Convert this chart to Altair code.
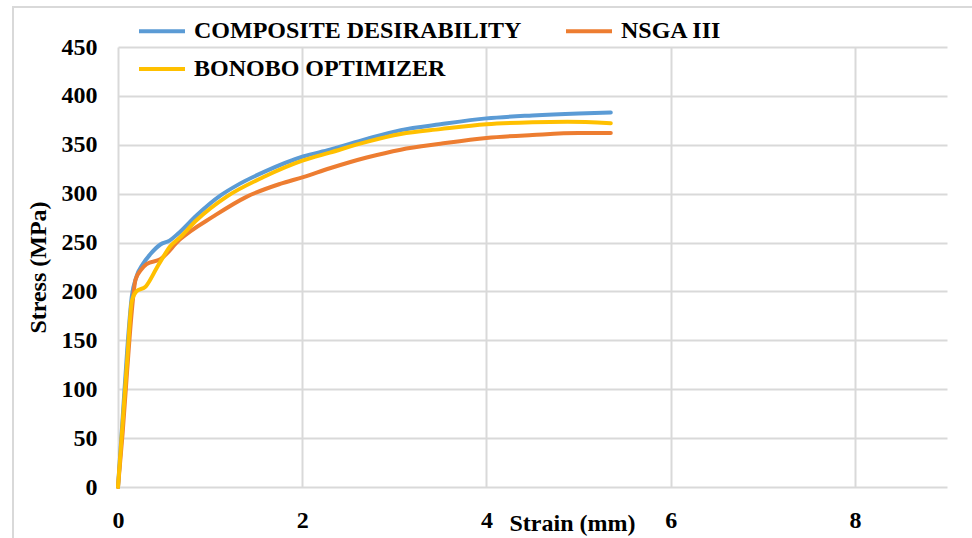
import altair as alt
import pandas as pd

# Composite desirability
cd_strain = [0, 0.05, 0.10, 0.15, 0.20, 0.27, 0.35, 0.46, 0.56, 0.65, 0.855, 1.11, 1.30, 1.58, 2.01, 2.30, 2.70, 3.07, 3.50, 4.00, 4.50, 5.00, 5.35]
cd_stress = [0, 70, 140, 195, 215, 228, 238, 248, 252, 259, 278, 298, 309, 322, 338, 345, 356, 365, 371, 377, 380, 382, 383]

# NSGA III
ns_strain = [0, 0.05, 0.10, 0.15, 0.19, 0.25, 0.31, 0.46, 0.67, 1.04, 1.40, 1.76, 2.01, 2.30, 2.70, 3.07, 3.50, 4.00, 4.50, 5.00, 5.35]
ns_stress = [0, 55, 120, 180, 212, 222, 228, 233, 253, 277, 297, 310, 317, 326, 337, 345, 351, 357, 360, 362, 362]

# Bonobo optimizer
bo_strain = [0, 0.05, 0.10, 0.15, 0.20, 0.30, 0.42, 0.47, 0.565, 0.67, 0.855, 1.18, 1.58, 2.01, 2.30, 2.70, 3.07, 3.50, 4.00, 4.50, 4.88, 5.35]
bo_stress = [0, 65, 130, 190, 200, 205, 224, 232, 246, 255, 273, 297, 317, 334, 342, 353, 361, 366, 371, 373, 373.5, 372]

series_names = ["COMPOSITE DESIRABILITY", "NSGA III", "BONOBO OPTIMIZER"]
series_colors = ["#5B9BD5", "#ED7D31", "#FFC000"]

x_ticks = [0, 2, 4, 6, 8]
y_ticks = [0, 50, 100, 150, 200, 250, 300, 350, 400, 450]

rows = []
for name, xs, ys in zip(series_names, [cd_strain, ns_strain, bo_strain], [cd_stress, ns_stress, bo_stress]):
    for i, (x, y) in enumerate(zip(xs, ys)):
        rows.append({"series": name, "strain": x, "stress": y, "order": i})
df = pd.DataFrame(rows)

FONT = "Liberation Serif"
txt = dict(labelFont=FONT, labelFontSize=24, labelFontWeight="bold", labelColor="#000000",
           titleFont=FONT, titleFontSize=24, titleFontWeight="bold", titleColor="#000000",
           gridColor="#D9D9D9", gridWidth=2, labelFlush=False)

lines = alt.Chart(df).mark_line(strokeWidth=4, interpolate="monotone", strokeCap="round").encode(
    x=alt.X("strain:Q",
            scale=alt.Scale(domain=[0, 9], nice=False),
            axis=alt.Axis(values=x_ticks, title="Strain (mm)", grid=True, ticks=False,
                          domain=False, labelPadding=21, labelBaseline="top",
                          titleX=454, titleY=43, titleBaseline="alphabetic", titleAlign="center",
                          **txt)),
    y=alt.Y("stress:Q",
            scale=alt.Scale(domain=[0, 450], nice=False),
            axis=alt.Axis(values=y_ticks, title="Stress (MPa)", grid=True, ticks=False,
                          domain=False, labelPadding=21,
                          titleX=-80, titleY=220, titleAngle=270, titleAlign="center",
                          titleBaseline="middle", **txt)),
    color=alt.Color("series:N",
                    scale=alt.Scale(domain=series_names, range=series_colors),
                    sort=series_names,
                    legend=alt.Legend(title=None, orient="none", legendX=19, legendY=-29.5,
                                      direction="horizontal", columns=2, columnPadding=36,
                                      rowPadding=12, symbolType="M-1,0L3,0", symbolSize=529,
                                      symbolStrokeWidth=4, labelOffset=30, labelLimit=0,
                                      labelFont=FONT, labelFontSize=24, labelFontWeight="bold",
                                      labelColor="#000000", padding=0)),
    order=alt.Order("order:Q"),
)

# chart-area frame (decoration, like the spreadsheet chart border)
frame = alt.Chart(pd.DataFrame({"a": [0]})).mark_rect(
    fill=None, stroke="#D9D9D9", strokeWidth=2
).encode(
    x=alt.value(-105), x2=alt.value(880), y=alt.value(-40), y2=alt.value(520)
)

chart = alt.layer(frame, lines).properties(
    width=829, height=440,
    autosize=alt.AutoSizeParams(type="none"),
    padding={"left": 118, "top": 47, "right": 25, "bottom": 51},
    background="white",
).configure_view(stroke=None)

chart.save("out.html", embed_options={"renderer": "svg", "actions": False})
